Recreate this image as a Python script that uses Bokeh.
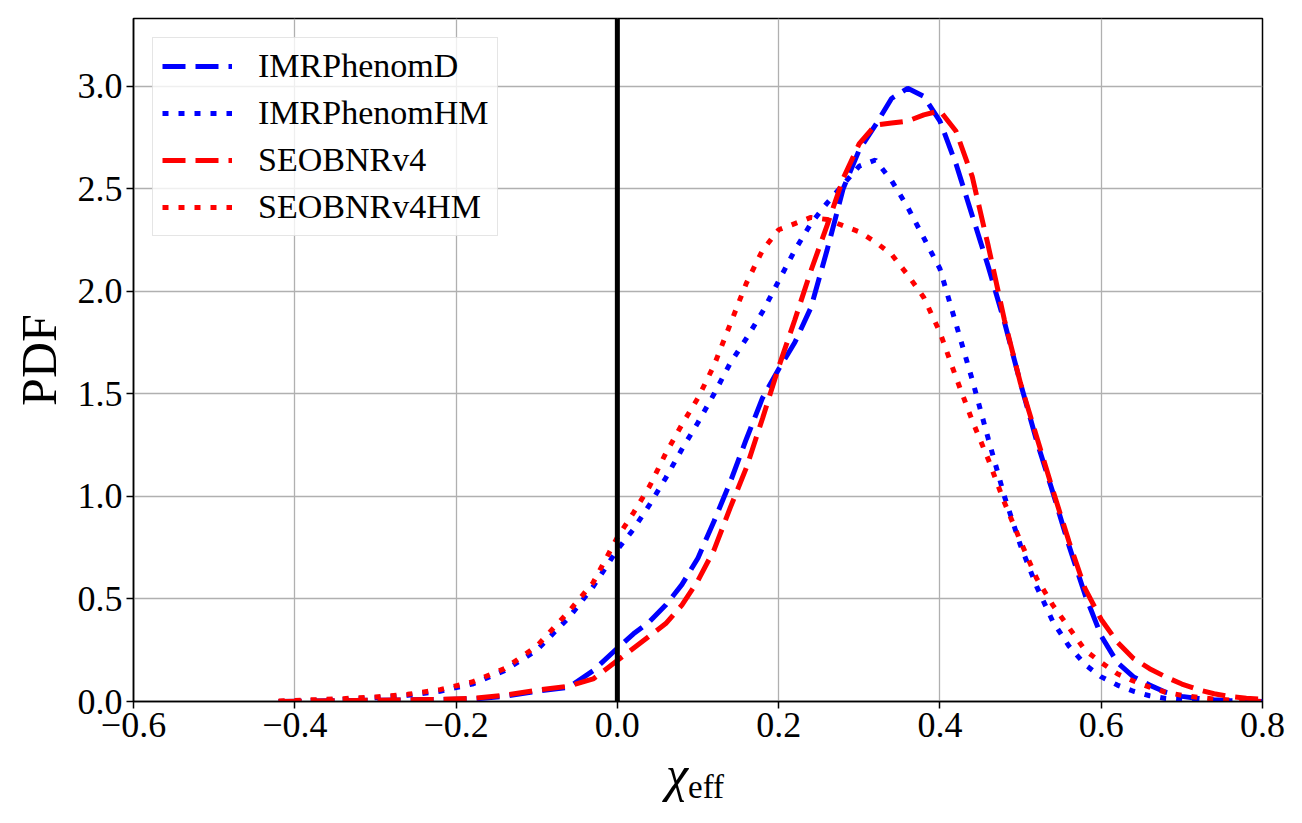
from bokeh.plotting import figure
from bokeh.models import (FixedTicker, CustomJSTickFormatter, Span, Legend, LegendItem,
                          Range1d, Div)
from bokeh.layouts import column
from bokeh.embed import file_html
from bokeh.resources import INLINE

# ---- data ----
chi_eff = [-0.42, -0.38, -0.34, -0.30, -0.26, -0.22, -0.18, -0.14, -0.10, -0.06, -0.03,
           0.00, 0.02, 0.04, 0.06, 0.08, 0.10, 0.12, 0.14, 0.16, 0.18, 0.20, 0.22, 0.24,
           0.26, 0.28, 0.30, 0.32, 0.34, 0.36, 0.38, 0.40, 0.42, 0.44, 0.46, 0.48, 0.50,
           0.52, 0.54, 0.56, 0.58, 0.60, 0.62, 0.64, 0.66, 0.68, 0.70, 0.72, 0.74, 0.76,
           0.78, 0.80]

imrphenomd = [0.0, 0.002, 0.004, 0.006, 0.008, 0.010, 0.012, 0.025, 0.05, 0.07, 0.15,
              0.26, 0.33, 0.39, 0.47, 0.57, 0.70, 0.88, 1.07, 1.28, 1.48, 1.62, 1.75, 1.92,
              2.20, 2.50, 2.69, 2.81, 2.94, 2.99, 2.95, 2.83, 2.62, 2.37, 2.12, 1.85, 1.55,
              1.27, 1.02, 0.76, 0.52, 0.32, 0.19, 0.12, 0.08, 0.045, 0.025, 0.015, 0.008, 0.004,
              0.002, 0.0]

imrphenomhm = [0.0, 0.005, 0.010, 0.018, 0.030, 0.050, 0.085, 0.15, 0.25, 0.41, 0.56,
               0.74, 0.84, 0.96, 1.09, 1.23, 1.36, 1.50, 1.65, 1.77, 1.90, 2.05, 2.20, 2.33,
               2.43, 2.52, 2.61, 2.64, 2.54, 2.41, 2.26, 2.11, 1.84, 1.57, 1.28, 1.00, 0.76,
               0.56, 0.39, 0.27, 0.18, 0.12, 0.08, 0.05, 0.028, 0.015, 0.008, 0.004, 0.002, 0.001,
               0.0, 0.0]

seobnrv4 = [0.0, 0.002, 0.004, 0.006, 0.008, 0.010, 0.015, 0.030, 0.055, 0.075, 0.11,
            0.20, 0.26, 0.32, 0.38, 0.47, 0.59, 0.74, 0.945, 1.14, 1.38, 1.63, 1.86, 2.10,
            2.32, 2.55, 2.72, 2.81, 2.82, 2.83, 2.86, 2.88, 2.78, 2.56, 2.22, 1.86, 1.55,
            1.29, 1.03, 0.78, 0.55, 0.40, 0.29, 0.21, 0.16, 0.12, 0.085, 0.058, 0.038, 0.024,
            0.016, 0.010]

seobnrv4hm = [0.003, 0.008, 0.014, 0.022, 0.035, 0.058, 0.095, 0.16, 0.27, 0.44, 0.58,
              0.80, 0.92, 1.05, 1.21, 1.35, 1.48, 1.64, 1.84, 2.04, 2.20, 2.30, 2.33, 2.36,
              2.35, 2.32, 2.29, 2.24, 2.18, 2.08, 1.97, 1.80, 1.58, 1.37, 1.18, 0.97, 0.78,
              0.60, 0.47, 0.36, 0.25, 0.19, 0.135, 0.10, 0.07, 0.045, 0.03, 0.02, 0.012, 0.007,
              0.003, 0.0]

series_names = ["IMRPhenomD", "IMRPhenomHM", "SEOBNRv4", "SEOBNRv4HM"]
x_ticks = [-0.6, -0.4, -0.2, 0.0, 0.2, 0.4, 0.6, 0.8]
y_ticks = [0.0, 0.5, 1.0, 1.5, 2.0, 2.5, 3.0]
x_label = "χ"
x_label_sub = "eff"
y_label = "PDF"

FONT = "Liberation Serif"

p = figure(width=1302, height=760, output_backend="svg", toolbar_location=None,
           x_range=Range1d(-0.6, 0.8), y_range=Range1d(0, 3.33),
           min_border_left=133, min_border_right=40, min_border_top=18,
           min_border_bottom=59)

p.background_fill_color = "white"
p.border_fill_color = "white"
p.outline_line_color = "black"
p.outline_line_width = 1.5
p.outline_line_alpha = 1.0

fmt = CustomJSTickFormatter(code="""
    return (tick < -1e-9 ? "\\u2212" : "") + Math.abs(tick).toFixed(1);
""")

for ax, ticks in ((p.xaxis[0], x_ticks), (p.yaxis[0], y_ticks)):
    ax.ticker = FixedTicker(ticks=ticks)
    ax.formatter = fmt
    ax.major_label_text_font = FONT
    ax.major_label_text_font_size = "36px"
    ax.major_label_text_color = "black"
    ax.major_tick_out = 7
    ax.major_tick_in = 0
    ax.minor_tick_out = 0
    ax.minor_tick_in = 0
    ax.major_tick_line_width = 1.5
    ax.major_tick_line_color = "black"
    ax.axis_line_width = 1.5
    ax.axis_line_color = "black"
    ax.major_label_standoff = 4

p.yaxis[0].axis_label = y_label
p.yaxis[0].axis_label_text_font = FONT
p.yaxis[0].axis_label_text_font_size = "50px"
p.yaxis[0].axis_label_text_font_style = "normal"
p.yaxis[0].axis_label_text_color = "black"
p.yaxis[0].axis_label_standoff = 8

p.grid.grid_line_color = "#b0b0b0"
p.grid.grid_line_width = 1.3
p.xgrid.ticker = FixedTicker(ticks=x_ticks)
p.ygrid.ticker = FixedTicker(ticks=y_ticks)

styles = [("#0000ff", "23 10"), ("#0000ff", "6 10"), ("#ff0000", "23 10"), ("#ff0000", "6 10")]
data = [imrphenomd, imrphenomhm, seobnrv4, seobnrv4hm]
items = []
for name, ys, (col, dash) in zip(series_names, data, styles):
    r = p.line(chi_eff, ys, line_color=col, line_width=5, line_dash=dash)
    items.append(LegendItem(label=name, renderers=[r]))

p.add_layout(Span(location=0.0, dimension="height", line_color="black", line_width=5))

legend = Legend(items=items, location="top_left",
                label_text_font=FONT, label_text_font_size="34px",
                label_text_color="black",
                glyph_width=70, glyph_height=34, label_height=34,
                spacing=9, padding=9, margin=19, label_standoff=26,
                border_line_color="#cccccc", border_line_width=1.5,
                background_fill_color="white", background_fill_alpha=0.8)
p.add_layout(legend)

xlabel_html = (
    "<div style=\"font-family:'Liberation Serif'; color:black; font-size:50px; "
    "line-height:28px; padding-left:666px; white-space:nowrap;\">"
    f"<i>{x_label}</i><span style=\"font-size:33px; position:relative; top:7px;\">"
    f"{x_label_sub}</span></div>"
)
xlabel_div = Div(text=xlabel_html, width=1302, height=63, margin=(0, 0, 0, 0))

layout = column(p, xlabel_div, spacing=0)

open("out.html", "w").write(file_html(layout, INLINE))
